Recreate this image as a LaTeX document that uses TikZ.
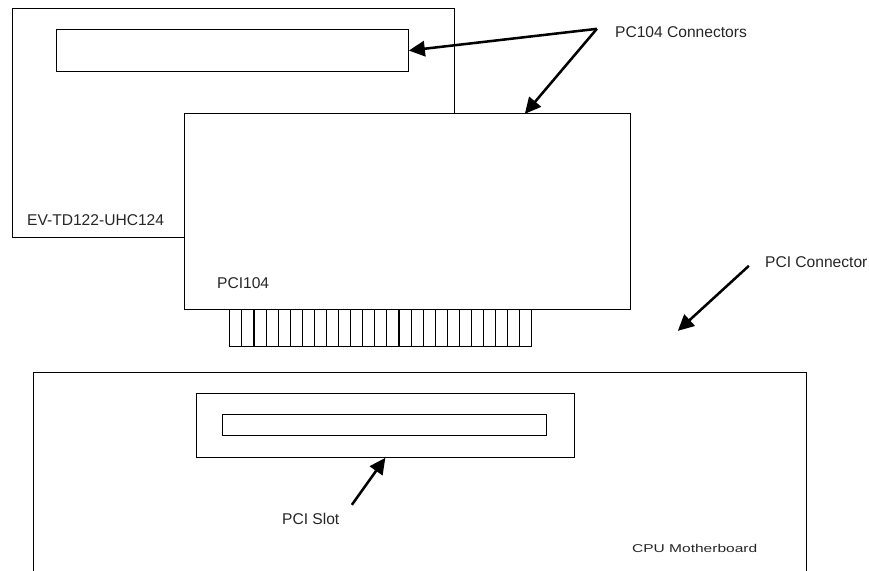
\documentclass[tikz,border=0pt]{standalone}
\usepackage{fontspec}
\setmainfont{Liberation Sans}
\usetikzlibrary{arrows.meta}
\tikzset{
  x=0.75pt,y=-0.75pt,
  box/.style={draw=black,line width=0.8pt,line join=miter},
  lbl/.style={inner sep=0pt,anchor=west,text=black!85,font=\fontsize{11.7pt}{13pt}\selectfont},
  pointer/.style={draw=black,line width=1.9pt,-{Triangle[length=12pt,width=11.5pt]}}
}
\begin{document}
\begin{tikzpicture}
\useasboundingbox (0.15,0.15) rectangle (869.15,571.15);
% EV board
\coordinate (pciA) at (185,114);
\coordinate (pciB) at (631,310);
\draw[box] (455,114) -- (455,9) -- (13,9) -- (13,238) -- (185,238);
\draw[box] (pciA) rectangle (pciB);
\draw[box] (57,30) rectangle (409,72);
\coordinate (c1) at (409,50.7);
\node[lbl] (pc) at (615,32) {PC104 Connectors};
\node[lbl] (ev) at (27,220) {EV-TD122-UHC124};
\node[lbl] (p104) at (217,283) {PCI104};
% teeth
\draw[box] (230,310) rectangle (532,347);
\foreach \i in {1,...,24} \draw[box] ({230+\i*12.08},310) -- ({230+\i*12.08},347);
% motherboard
\draw[box] (34,571.15) -- (34,373) -- (807,373) -- (807,571.15);
\draw[box] (197,394) rectangle (575,458);
\draw[box] (223,415) rectangle (546.7,436);
\node[lbl] (pcic) at (765,262) {PCI Connector};
\node[lbl] (slot) at (282,519) {PCI Slot};
\node[lbl,font=\fontsize{8.5pt}{9pt}\selectfont] (cpu) at (632,549) {\scalebox{1.37}[1]{CPU Motherboard}};
% arrows
\coordinate (h) at (597,29);
\coordinate (t2) at (525,114);
\coordinate (pa) at (749,266);
\coordinate (pb) at (678,331);
\coordinate (sa) at (352,505);
\coordinate (sb) at (385.5,458);
\draw[pointer] (h) -- (c1);
\draw[pointer] (h) -- (t2);
\draw[pointer] (pa) -- (pb);
\draw[pointer] (sa) -- (sb);
\end{tikzpicture}
\end{document}
